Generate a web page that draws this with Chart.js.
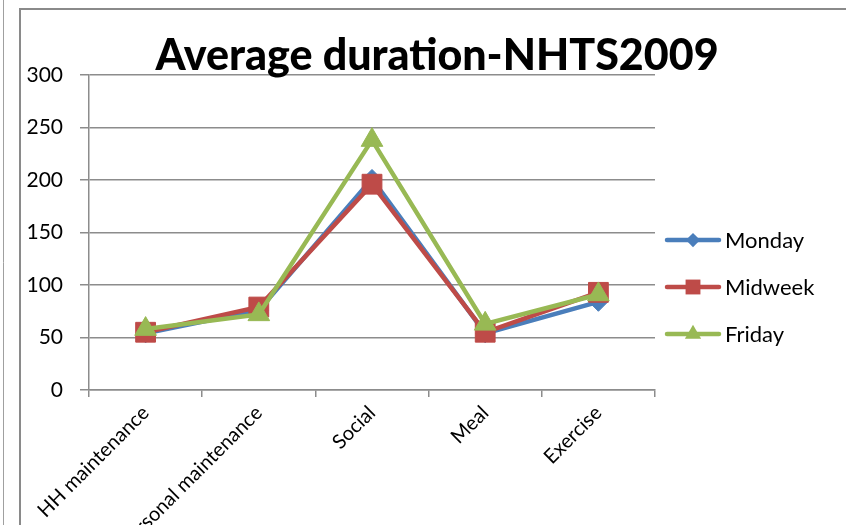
<!DOCTYPE html>
<html lang="en">
<head>
  <meta charset="UTF-8" />
  <title>Average duration-NHTS2009</title>
  <script src="https://cdn.jsdelivr.net/npm/chart.js"></script>
  <style>
    html, body { margin:0; padding:0; background:#fff; }
    #wrap { position:relative; width:846px; height:525px; overflow:hidden; }
  </style>
</head>
<body>
<div id="wrap"><canvas id="chart" width="846" height="525"></canvas></div>

<script>
/* ====== data ====== */
const categories = ['HH maintenance', 'Personal maintenance', 'Social', 'Meal', 'Exercise'];
const monday  = [54, 76, 201, 54, 84];
const midweek = [55, 79, 196, 55, 93];
const friday  = [58, 72, 238, 63, 91];
const yTicks  = [0, 50, 100, 150, 200, 250, 300];

const FONT = 'Lato, "Open Sans", sans-serif';
const GRID = '#8c8c8c';

const series = [
  { label:'Monday',  data:monday,  color:'#4a7ebb', style:'rectRot',  r:9.5, order:3 },
  { label:'Midweek', data:midweek, color:'#be4b48', style:'rect',     r:14,  order:2 },
  { label:'Friday',  data:friday,  color:'#98b954', style:'triangle', r:12.5, order:1 }
];

/* small marker helper for the legend */
function marker(ctx, style, r, x, y) {
  ctx.beginPath();
  if (style === 'rectRot') {
    ctx.moveTo(x, y - r); ctx.lineTo(x + r, y); ctx.lineTo(x, y + r); ctx.lineTo(x - r, y);
  } else if (style === 'rect') {
    const s = Math.SQRT1_2 * r;
    ctx.rect(x - s, y - s, 2 * s, 2 * s);
  } else {
    for (let i = 0; i < 3; i++) {
      const a = i * 2 * Math.PI / 3;
      const px = x + Math.sin(a) * r, py = y - Math.cos(a) * r;
      i ? ctx.lineTo(px, py) : ctx.moveTo(px, py);
    }
  }
  ctx.closePath();
  ctx.fill();
}

/* frame, title and legend drawn by hand like the Excel chart */
const decor = {
  id:'decor',
  beforeDraw(chart) {
    const ctx = chart.ctx;
    ctx.save();
    ctx.fillStyle = '#fff';
    ctx.fillRect(0, 0, chart.width, chart.height);
    ctx.strokeStyle = '#a0a0a0';
    ctx.lineWidth = 1;
    ctx.beginPath(); ctx.moveTo(3.5, 0); ctx.lineTo(3.5, 525); ctx.stroke();
    ctx.strokeStyle = '#8a8a8a';
    ctx.lineWidth = 2;
    ctx.beginPath(); ctx.moveTo(20, 525); ctx.lineTo(20, 9); ctx.lineTo(846, 9); ctx.stroke();
    ctx.restore();
  },
  afterDraw(chart) {
    const ctx = chart.ctx;
    ctx.save();
    // title
    ctx.fillStyle = '#000';
    ctx.font = 'bold 37px ' + FONT;
    let w = ctx.measureText('Average duration-NHTS2009').width;
    const size = 37 * 560 / w;
    ctx.font = '900 ' + size.toFixed(1) + 'px ' + FONT;
    ctx.textAlign = 'center';
    ctx.textBaseline = 'alphabetic';
    ctx.fillText('Average duration-NHTS2009', 437, 70);
    // legend
    ctx.textAlign = 'left';
    ctx.textBaseline = 'middle';
    ctx.font = '22px ' + FONT;
    series.forEach((s, i) => {
      const y = 240 + i * 47;
      ctx.strokeStyle = s.color;
      ctx.fillStyle = s.color;
      ctx.lineWidth = 4.5;
      ctx.lineCap = 'round';
      ctx.beginPath(); ctx.moveTo(667, y); ctx.lineTo(719, y); ctx.stroke();
      marker(ctx, s.style, s.r * 0.75, 693, y);
      ctx.fillStyle = '#000';
      ctx.fillText(s.label, 725, y + 1);
    });
    ctx.restore();
  }
};

new Chart(document.getElementById('chart'), {
  type:'line',
  data:{
    labels:categories,
    datasets:series.map(s => ({
      label:s.label,
      data:s.data,
      order:s.order,
      borderColor:s.color,
      backgroundColor:s.color,
      borderWidth:4.5,
      pointStyle:s.style,
      pointRadius:s.r,
      pointBorderWidth:1,
      tension:0,
      fill:false
    }))
  },
  options:{
    responsive:false,
    animation:false,
    layout:{ padding:{ left:0, top:75, right:191, bottom:0 } },
    plugins:{ legend:{ display:false }, title:{ display:false }, tooltip:{ enabled:false } },
    scales:{
      x:{
        offset:true,
        grid:{ offset:true, drawOnChartArea:false, drawTicks:true, tickLength:7, color:GRID, lineWidth:1.5 },
        border:{ display:true, color:GRID, width:1.5 },
        ticks:{ color:'#000', font:{ family:FONT, size:20 }, maxRotation:45, minRotation:45, padding:4, autoSkip:false },
        afterFit(scale) { scale.height = 135; }
      },
      y:{
        min:0, max:300,
        afterBuildTicks(scale) { scale.ticks = yTicks.map(v => ({ value:v })); },
        grid:{ color:GRID, lineWidth:1.5, tickLength:9 },
        border:{ display:true, color:GRID, width:1.5 },
        ticks:{ color:'#000', font:{ family:FONT, size:21 }, padding:17 },
        afterFit(scale) { scale.width = 89; }
      }
    }
  },
  plugins:[decor]
});
</script>
</body>
</html>
